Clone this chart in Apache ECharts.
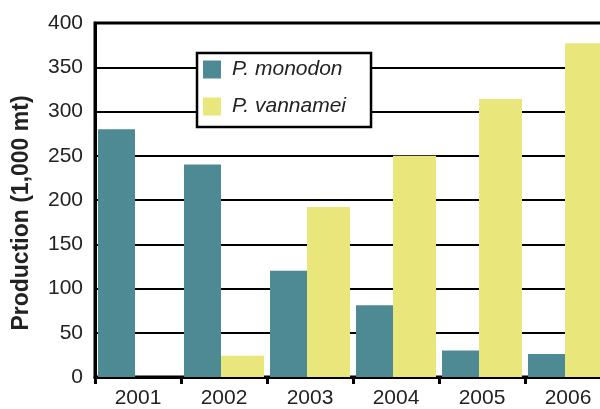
<!DOCTYPE html>
<html>
<head>
<meta charset="utf-8">
<script src="https://cdn.jsdelivr.net/npm/echarts@6/dist/echarts.min.js"></script>
<style>
  html, body { margin: 0; padding: 0; background: #fff; overflow: hidden; }
  /* plot runs past the right edge of the window, like the source figure */
  #chart { width: 612px; height: 409px; }
</style>
</head>
<body>
<div id="chart"></div>
<script>
// Shrimp production by species
const years = ['2001', '2002', '2003', '2004', '2005', '2006'];
const monodon = [280, 240, 120, 81, 30, 26];
const vannamei = [null, 24, 192, 250, 314, 377];

const chart = echarts.init(document.getElementById('chart'));

chart.setOption({
  animation: false,
  textStyle: { fontFamily: 'Liberation Sans, Arial, sans-serif' },
  grid: {
    left: 95,
    right: 1,
    top: 23,
    bottom: 29,
    show: true,
    borderColor: '#000',
    borderWidth: 3,
    backgroundColor: 'transparent'
  },
  legend: {
    orient: 'vertical',
    left: 197,
    top: 53,
    backgroundColor: '#fff',
    borderColor: '#000',
    borderWidth: 2.5,
    borderRadius: 0,
    padding: [6, 25, 10, 6],
    itemWidth: 18,
    itemHeight: 18,
    itemGap: 16,
    icon: 'rect',
    textStyle: {
      fontSize: 21,
      fontStyle: 'italic',
      color: '#222',
      padding: [0, 0, 0, 6]
    },
    data: ['P. monodon', 'P. vannamei']
  },
  xAxis: {
    type: 'category',
    data: years,
    axisLine: { lineStyle: { color: '#000', width: 3 } },
    axisTick: { show: true, length: 7, lineStyle: { color: '#000', width: 3 } },
    axisLabel: { fontSize: 21, color: '#222', margin: 11 }
  },
  yAxis: {
    type: 'value',
    min: 0,
    max: 400,
    interval: 50,
    name: 'Production (1,000 mt)',
    nameLocation: 'middle',
    nameGap: 62,
    nameTextStyle: {
      fontSize: 23,
      fontWeight: 'bold',
      color: '#222',
      padding: [0, 26, 0, 0]
    },
    axisLine: { show: true, lineStyle: { color: '#000', width: 3 } },
    axisTick: { show: false },
    axisLabel: { fontSize: 21, color: '#222', margin: 12 },
    splitLine: { lineStyle: { color: '#000', width: 2 } }
  },
  series: [
    {
      name: 'P. monodon',
      type: 'bar',
      data: monodon,
      barWidth: 37,
      barGap: '0%',
      itemStyle: { color: '#4e8a94' }
    },
    {
      name: 'P. vannamei',
      type: 'bar',
      data: vannamei,
      barWidth: 43,
      barGap: '0%',
      itemStyle: { color: '#e9e77c' }
    }
  ]
});
</script>
</body>
</html>
